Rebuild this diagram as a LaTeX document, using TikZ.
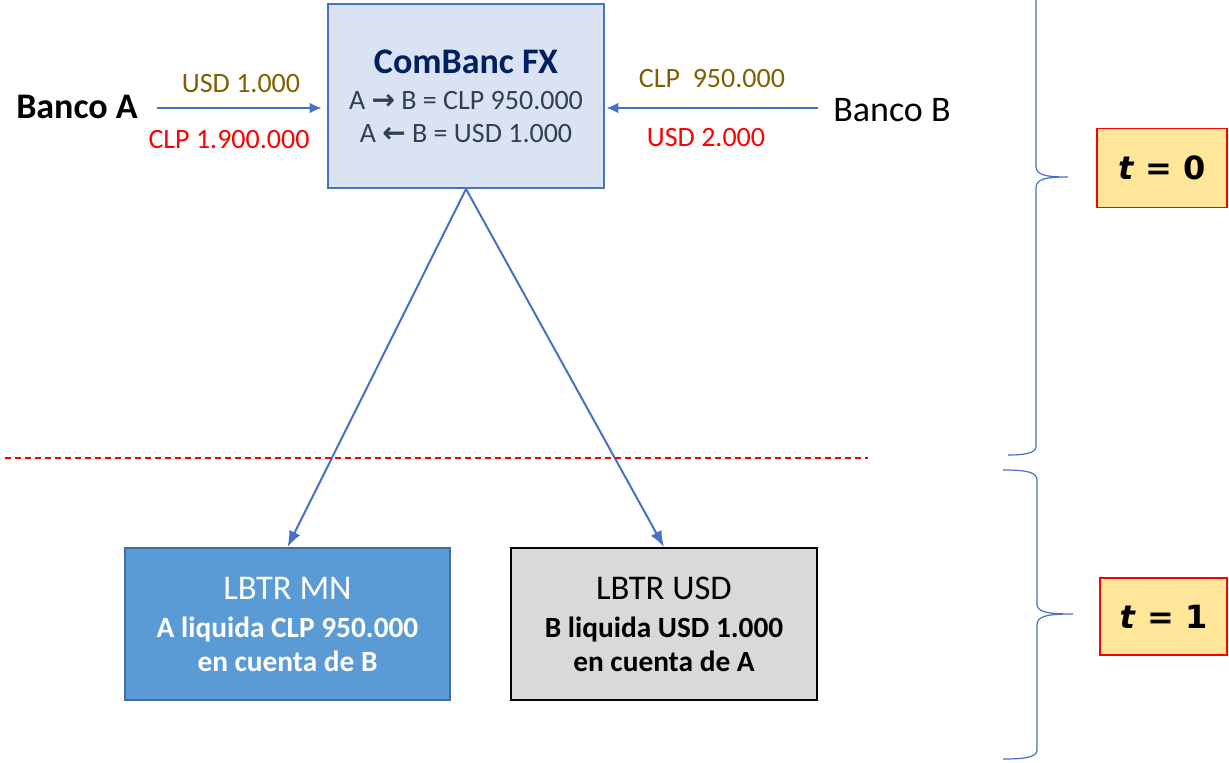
\documentclass[tikz,border=0pt]{standalone}
\usepackage{fontspec}
\setmainfont{Carlito}
\newfontfamily\arrowfont{DejaVu Sans}
\newfontfamily\timefont{DejaVu Sans}
\usetikzlibrary{arrows.meta,positioning}
\definecolor{flowblue}{HTML}{4472C4}
\definecolor{fxfill}{HTML}{DAE3F3}
\definecolor{fxnavy}{HTML}{002060}
\definecolor{fxgray}{HTML}{333F50}
\definecolor{olive}{HTML}{7F6000}
\definecolor{mnfill}{HTML}{5B9BD5}
\definecolor{mnline}{HTML}{41719C}
\definecolor{usdfill}{HTML}{D9D9D9}
\definecolor{tfill}{HTML}{FFE699}

\tikzset{
  flow/.style={flowblue, line width=1.5pt, -{Latex[length=9pt, width=8pt]}},
  fxbox/.style={draw=flowblue, fill=fxfill, line width=1.5pt,
                minimum width=207pt, minimum height=138pt, align=center,
                text=fxgray, font=\fontsize{21}{25}\selectfont},
  lbtrbox/.style={line width=1.5pt, minimum width=243.75pt, minimum height=114pt,
                  align=center, font=\fontsize{22}{25}\selectfont\bfseries},
  tbox/.style={draw=red, fill=tfill, line width=1.2pt,
               font=\timefont\fontsize{24}{28}\selectfont\bfseries},
  amount/.style={font=\fontsize{21}{24}\selectfont},
  bank/.style={font=\fontsize{27}{30}\selectfont, inner sep=1pt},
  timebrace/.style={flowblue, line width=0.9pt}
}
\newcommand{\arr}[1]{{\arrowfont\bfseries #1}}

\begin{document}
\begin{tikzpicture}[x=0.75pt, y=-0.75pt]
  \useasboundingbox (0,0) rectangle (1229,763);

  %% ComBanc FX y bancos
  \node[fxbox] (fx) at (466,96)
    {{\color{fxnavy}\bfseries\fontsize{27}{30}\selectfont ComBanc FX}\\[2pt]
     A \arr{→} B = CLP 950.000\\
     A \arr{←} B = USD 1.000};
  \node[bank, font=\fontsize{27}{30}\selectfont\bfseries] (bancoA) at (77,107) {Banco A};
  \node[bank] (bancoB) at (892,110) {Banco B};

  \draw[flow, shorten <=13pt, shorten >=4pt] (bancoA.east |- 0,108) -- (fx.west |- 0,108);
  \draw[flow, shorten <=10pt, shorten >=1pt] (bancoB.west |- 0,108) -- (fx.east |- 0,108);

  \node[amount, text=olive] (usdA) at (241,84) {USD 1.000};
  \node[amount, text=red] (clpA) at (229,140) {CLP 1.900.000};
  \node[amount, text=olive] (clpB) at (712,79) {CLP\ \ 950.000};
  \node[amount, text=red] (usdB) at (706,138) {USD 2.000};

  %% sistemas LBTR
  \node[lbtrbox, draw=mnline, fill=mnfill, text=white] (mn) at (287.5,624)
    {{\mdseries\fontsize{26}{30}\selectfont LBTR MN}\\[4pt]
     A liquida CLP 950.000\\ en cuenta de B};
  \node[lbtrbox, draw=black, fill=usdfill, minimum width=229.5pt] (usd) at (664,624)
    {{\mdseries\fontsize{26}{30}\selectfont LBTR USD}\\[4pt]
     B liquida USD 1.000\\ en cuenta de A};

  \draw[flow, -{Latex[length=12pt, width=9pt]}] (fx.south) -- (mn.north);
  \draw[flow, -{Latex[length=12pt, width=9pt]}] (fx.south) -- (usd.north);

  %% corte entre t = 0 y t = 1
  \draw[red, line width=1.1pt, dash pattern=on 4.5pt off 3pt] (5,458) -- (868,458);

  %% llaves de tiempo
  \draw[timebrace] (1036,-5) -- (1036,166)
    .. controls (1036,175) and (1045,177) .. (1068,177)
    .. controls (1045,177) and (1036,179) .. (1036,188) -- (1036,446)
    .. controls (1036,453) and (1026,455) .. (1008,455);
  \draw[timebrace] (1003,470)
    .. controls (1026,470) and (1037,472) .. (1037,480) -- (1037,604)
    .. controls (1037,612) and (1047,614) .. (1073,614)
    .. controls (1047,614) and (1037,616) .. (1037,625) -- (1037,750)
    .. controls (1037,757) and (1026,759) .. (1003,759);

  \node[tbox, minimum width=97.5pt, minimum height=59pt] (t0) at (1162,168) {\textit{t} = 0};
  \node[tbox, minimum width=95pt, minimum height=58pt] (t1) at (1163.5,616.5) {\textit{t} = 1};

\end{tikzpicture}
\end{document}
